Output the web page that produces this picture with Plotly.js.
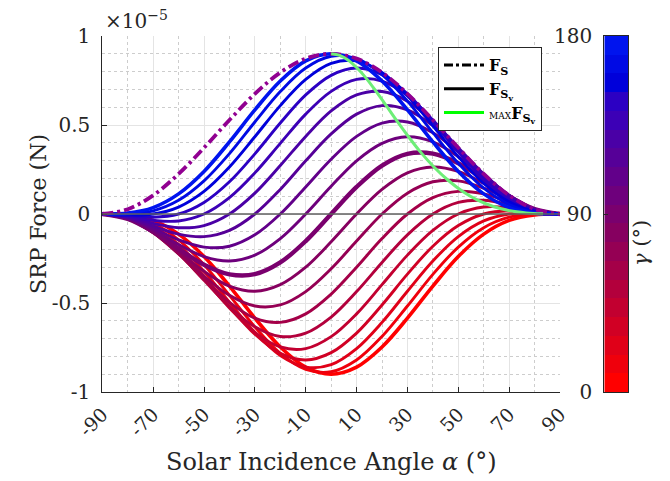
<!DOCTYPE html>
<html><head><meta charset="utf-8">
<script src="https://cdn.plot.ly/plotly-3.0.1.min.js"></script>
<style>html,body{margin:0;padding:0;background:#fff}#chart{width:670px;height:481px}</style>
</head><body><div id="chart"></div>
<script>
// ---- data (force values in units of 1e-5 N) ----
const alpha = [-90,-80,-70,-60,-50,-40,-30,-20,-10,0,10,20,30,40,50,60,70,80,90];
const gammaValues = [0,10,20,30,40,50,60,70,80,90,100,110,120,130,140,150,160,170,180];
const fG0   = [0,-.005,-.036,-.113,-.239,-.405,-.585,-.747,-.860,-.900,-.860,-.747,-.585,-.405,-.239,-.113,-.036,-.005,0];
const fG10  = [0,-.009,-.053,-.145,-.285,-.457,-.634,-.783,-.873,-.886,-.820,-.688,-.517,-.339,-.186,-.077,-.018,0,0];
const fG20  = [0,-.014,-.068,-.172,-.322,-.496,-.665,-.795,-.860,-.846,-.756,-.609,-.434,-.264,-.127,-.039,0,.005,0];
const fG30  = [0,-.017,-.081,-.195,-.349,-.520,-.675,-.783,-.820,-.779,-.669,-.511,-.338,-.181,-.065,0,.018,.009,0];
const fG40  = [0,-.021,-.091,-.211,-.366,-.528,-.665,-.747,-.756,-.689,-.561,-.397,-.231,-.092,0,.039,.036,.014,0];
const fG50  = [0,-.024,-.099,-.222,-.372,-.520,-.634,-.688,-.669,-.579,-.436,-.272,-.117,0,.065,.077,.053,.017,0];
const fG60  = [0,-.026,-.104,-.225,-.366,-.496,-.585,-.609,-.561,-.450,-.299,-.138,0,.092,.127,.113,.068,.021,0];
const fG70  = [0,-.027,-.105,-.222,-.349,-.457,-.517,-.511,-.436,-.308,-.152,0,.117,.181,.186,.145,.081,.024,0];
const fG80  = [0,-.027,-.104,-.211,-.322,-.405,-.434,-.397,-.299,-.156,0,.138,.231,.264,.239,.172,.091,.026,0];
const fG90  = [0,-.027,-.099,-.195,-.285,-.339,-.338,-.272,-.152,0,.152,.272,.338,.339,.285,.195,.099,.027,0];
const fG100 = [0,-.026,-.091,-.172,-.239,-.264,-.231,-.138,0,.156,.299,.397,.434,.405,.322,.211,.104,.027,0];
const fG110 = [0,-.024,-.081,-.145,-.186,-.181,-.117,0,.152,.308,.436,.511,.517,.457,.349,.222,.105,.027,0];
const fG120 = [0,-.021,-.068,-.113,-.127,-.092,0,.138,.299,.450,.561,.609,.585,.496,.366,.225,.104,.026,0];
const fG130 = [0,-.017,-.053,-.077,-.065,0,.117,.272,.436,.579,.669,.688,.634,.520,.372,.222,.099,.024,0];
const fG140 = [0,-.014,-.036,-.039,0,.092,.231,.397,.561,.689,.756,.747,.665,.528,.366,.211,.091,.021,0];
const fG150 = [0,-.009,-.018,0,.065,.181,.338,.511,.669,.779,.820,.783,.675,.520,.349,.195,.081,.017,0];
const fG160 = [0,-.005,0,.039,.127,.264,.434,.609,.756,.846,.860,.795,.665,.496,.322,.172,.068,.014,0];
const fG170 = [0,0,.018,.077,.186,.339,.517,.688,.820,.886,.873,.783,.634,.457,.285,.145,.053,.009,0];
const fG180 = [0,.005,.036,.113,.239,.405,.585,.747,.860,.900,.860,.747,.585,.405,.239,.113,.036,.005,0];
const fS    = [0,.027,.105,.225,.372,.528,.675,.795,.873,.900,.873,.795,.675,.528,.372,.225,.105,.027,0];
const maxAlpha = [0,3.34,6.73,10.20,13.81,17.60,21.61,25.87,30.42,35.26,40.42,45.87,51.61,57.60,63.81,70.20,76.73,83.34];
const maxForce = [.900,.891,.864,.820,.762,.690,.610,.523,.434,.346,.264,.191,.128,.078,.042,.018,.006,.001];
const xTickVals = [-90,-70,-50,-30,-10,10,30,50,70,90];
const xTickText = ['-90','-70','-50','-30','-10','10','30','50','70','90'];
const yTickVals = [-1,-0.5,0,0.5,1];
const yTickText = ['-1','-0.5','0','0.5','1'];
const cbTickVals = [0,90,180];
const cbTickText = ['0','90','180'];

// ---- styles ----
const FONT = 'DejaVu Serif';
const INK = 'rgb(38,38,38)';
const palette = ['rgb(255,0,0)','rgb(239,0,12)','rgb(224,0,24)','rgb(209,0,36)','rgb(194,0,48)',
  'rgb(179,0,60)','rgb(164,0,72)','rgb(149,0,84)','rgb(134,0,96)','rgb(122,0,110)',
  'rgb(110,0,124)','rgb(98,0,138)','rgb(86,0,152)','rgb(74,0,166)','rgb(60,0,182)',
  'rgb(44,0,195)','rgb(0,0,218)','rgb(0,10,228)','rgb(0,20,238)'];
const seriesList = [fG0,fG10,fG20,fG30,fG40,fG50,fG60,fG70,fG80,fG90,fG100,fG110,fG120,fG130,fG140,fG150,fG160,fG170,fG180];

const traces = [];
gammaValues.forEach((g,k) => {
  const w = (g === 90) ? 4.4 : ((g === 0 || g === 180) ? 3.6 : 2.9);
  traces.push({x: alpha, y: seriesList[k], type:'scatter', mode:'lines',
    line:{color: palette[k], width: w, shape:'spline', smoothing:1},
    showlegend:false, hoverinfo:'skip'});
});
traces.push({x: alpha, y: fS, type:'scatter', mode:'lines',
  line:{color:'rgb(145,0,145)', width:3.8, dash:'11px,4px,3px,4px', shape:'spline', smoothing:1},
  showlegend:false, hoverinfo:'skip'});
traces.push({x: maxAlpha, y: maxForce, type:'scatter', mode:'lines',
  line:{color:'rgb(110,238,120)', width:3, shape:'spline', smoothing:1},
  showlegend:false, hoverinfo:'skip'});
// legend entries
traces.push({x:[null], y:[null], type:'scatter', mode:'lines', line:{color:'black', width:3, dash:'dashdot'},
  name:'<b>F</b><sub><b>S</b></sub>'});
traces.push({x:[null], y:[null], type:'scatter', mode:'lines', line:{color:'black', width:3},
  name:'<b>F</b><sub><b>S<sub>v</sub></b></sub>'});
traces.push({x:[null], y:[null], type:'scatter', mode:'lines', line:{color:'rgb(0,255,0)', width:3},
  name:'<span style="font-size:9px">MAX</span><b>F</b><sub><b>S<sub>v</sub></b></sub>'});

// colorbar as heatmap on its own axes
const n = gammaValues.length;
const cbEdges = [];
for (let k = 0; k <= n; k++) cbEdges.push(180 * k / n);
const cs = [];
palette.forEach((c,k) => { cs.push([k/n, c]); cs.push([(k+1)/n, c]); });
traces.push({type:'heatmap', x:[0,1], y: cbEdges, z: gammaValues.map((g,k)=>[k]),
  colorscale: cs, zmin:-0.5, zmax:n-0.5, showscale:false, xaxis:'x2', yaxis:'y2', hoverinfo:'skip'});

const yDom = [(481-392)/481, (481-36)/481];
const layout = {
  width:670, height:481, margin:{l:0,r:0,t:0,b:0},
  paper_bgcolor:'white', plot_bgcolor:'white',
  showlegend:true,
  legend:{x:438/670, y:(481-47)/481, xanchor:'left', yanchor:'top',
    bgcolor:'white', bordercolor:INK, borderwidth:1,
    font:{family:FONT, size:16, color:'black'}, tracegroupgap:0, itemwidth:40},
  xaxis:{domain:[102.3/670, 560/670], range:[-90,90], anchor:'y',
    tickvals:xTickVals, ticktext:xTickText, tickangle:-45,
    ticks:'inside', ticklen:5, tickcolor:INK, ticklabelstandoff:3,
    showline:true, linecolor:INK, linewidth:1,
    showgrid:true, gridcolor:'rgb(228,228,228)', gridwidth:1, zeroline:false,
    tickfont:{family:FONT, size:19, color:INK},
    minor:{dtick:10, tick0:-90, showgrid:true, griddash:'dot', gridcolor:'rgb(205,205,205)', gridwidth:1},
    fixedrange:true},
  yaxis:{domain:yDom, range:[-1,1], anchor:'x',
    tickvals:yTickVals, ticktext:yTickText,
    ticks:'inside', ticklen:5, tickcolor:INK, ticklabelstandoff:7,
    showline:true, linecolor:INK, linewidth:1,
    showgrid:true, gridcolor:'rgb(228,228,228)', gridwidth:1, zeroline:false,
    tickfont:{family:FONT, size:20, color:INK},
    minor:{dtick:0.1, tick0:-1, showgrid:true, griddash:'dot', gridcolor:'rgb(205,205,205)', gridwidth:1},
    fixedrange:true},
  xaxis2:{domain:[604.3/670, 628.3/670], range:[0,1], anchor:'y2',
    showticklabels:false, ticks:'', showgrid:false, zeroline:false,
    showline:true, mirror:true, linecolor:INK, linewidth:1, fixedrange:true},
  yaxis2:{domain:yDom, range:[0,180], anchor:'x2', side:'left',
    tickvals:cbTickVals, ticktext:cbTickText,
    ticks:'inside', ticklen:4, tickcolor:INK, ticklabelstandoff:7,
    showgrid:false, zeroline:false,
    showline:true, mirror:true, linecolor:INK, linewidth:1,
    tickfont:{family:FONT, size:20, color:INK}, fixedrange:true},
  shapes:[{type:'line', xref:'x domain', yref:'y', x0:0, x1:1, y0:0, y1:0,
    line:{color:'rgb(95,95,95)', width:1.5}, layer:'above'}],
  annotations:[
    {text:'×10<sup>−5</sup>', xref:'paper', yref:'paper', x:103/670, y:(481-20)/481,
      xanchor:'left', yanchor:'middle', showarrow:false, font:{family:FONT, size:20, color:INK}},
    {text:'SRP Force (N)', xref:'paper', yref:'paper', x:38/670, y:(481-214)/481,
      xanchor:'center', yanchor:'middle', textangle:-90, showarrow:false, font:{family:FONT, size:22, color:INK}},
    {text:'Solar Incidence Angle <i>α</i> (°)', xref:'paper', yref:'paper', x:331/670, y:(481-462)/481,
      xanchor:'center', yanchor:'middle', showarrow:false, font:{family:FONT, size:24, color:INK}},
    {text:'<i>γ</i> (°)', xref:'paper', yref:'paper', x:641/670, y:(481-243)/481,
      xanchor:'center', yanchor:'middle', textangle:-90, showarrow:false, font:{family:FONT, size:21, color:INK}}
  ]
};
Plotly.newPlot('chart', traces, layout, {staticPlot:true, displayModeBar:false});
</script></body></html>
